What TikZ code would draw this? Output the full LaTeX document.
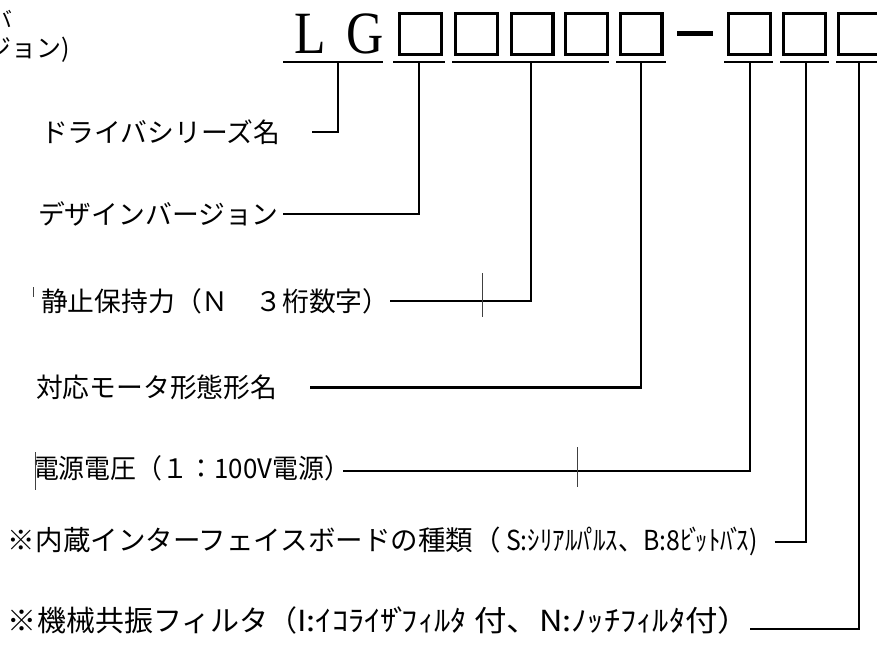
\documentclass[tikz,border=0pt]{standalone}
\usepackage{fontspec}
\setmainfont{Liberation Serif}
\newfontfamily\jp{Noto Sans CJK JP}
\usepackage{graphicx}
\newcommand\dkn[1]{\kern-.12em#1\kern-.24em}
\begin{document}
\begin{tikzpicture}[x=1pt,y=-1pt,
  lab/.style={anchor=west,inner sep=0pt,outer sep=0pt,font=\jp\fontsize{26.8pt}{30pt}\selectfont},
  lead/.style={line width=2.6pt},
  digitbox/.style={draw,line width=3.3pt,minimum width=41.7pt,minimum height=40.7pt,inner sep=0pt,outer sep=0pt},
  uline/.style={line width=2pt},
  noise/.style={line width=0.9pt,black!75}]
\useasboundingbox (0,0) rectangle (877,646);
\fill[white] (0,0) rectangle (877,646);

% top-left clipped caption
\node[anchor=east,inner sep=0pt,font=\jp\fontsize{21pt}{22pt}\selectfont] (tl1) at (13,19) {バ};
\node[anchor=west,inner sep=0pt,font=\jp\fontsize{25pt}{27pt}\selectfont] (tl2) at (-14,50) {ジョン)};

% model code
\node[anchor=base west,inner sep=0pt,font=\fontsize{60pt}{60pt}\selectfont] (lg) at (294.4,53) {\scalebox{0.86}[1]{L\kern24pt G}};
\node[digitbox] (b1) at (420.5,33.8) {};
\node[digitbox] (b2) at (476.5,33.8) {};
\node[digitbox] (b3) at (532,33.8) {};
\node[digitbox] (b4) at (586.5,33.8) {};
\node[digitbox] (b5) at (641,33.8) {};
\draw[line width=5pt] (677,33.5) -- (713,33.5);
\node[digitbox] (b6) at (749.5,33.8) {};
\node[digitbox] (b7) at (804.5,33.8) {};
\node[digitbox] (b8) at (859.5,33.8) {};

% underlines
\draw[uline] (283,62) -- (383,62);
\draw[uline] (393,62) -- (445,62);
\draw[uline] (452,62) -- (609,62);
\draw[uline] (616,62) -- (666,62);
\draw[uline] (724,62) -- (773,62);
\draw[uline] (780,62) -- (829,62);
\draw[uline] (836,62) -- (880,62);
\coordinate (u1) at (338,62);
\coordinate (u2) at (419,62);
\coordinate (u3) at (531,62);
\coordinate (u4) at (641,62);
\coordinate (u5) at (750,62);
\coordinate (u6) at (806,62);
\coordinate (u7) at (859,62);

% labels
\node[lab,text width=271.2pt,align=left] (l1) at (41,132) {ドライバシリーズ名};
\node[lab,text width=245pt,align=left] (l2) at (38,214) {デザインバージョン};
\node[lab,text width=349pt,align=left] (l3) at (41,301) {静止保持力（Ｎ　３桁数字）};
\node[lab,text width=274pt,align=left] (l4) at (36,387.5) {対応モータ形態形名};
\node[lab] (l5) at (33,468) {\resizebox{317pt}{\height}{電源電圧（１：100V電源）}};
\node[lab] (l6) at (8,541) {{\fontsize{27.5pt}{30pt}\selectfont ※内蔵インターフェイスボードの種類（}\resizebox{257pt}{\height}{\fontsize{27.5pt}{30pt}\selectfont\ S:ｼﾘｱﾙﾊ\dkn{ﾟ}ﾙｽ、B:8ﾋ\dkn{ﾞ}ｯﾄﾊ\dkn{ﾞ}ｽ)}};
\node[lab] (l7) at (8,620) {{\fontsize{29pt}{32pt}\selectfont ※機械共振フィルタ（}\resizebox{453pt}{\height}{\fontsize{29pt}{32pt}\selectfont I:ｲｺﾗｲｻ\dkn{ﾞ}ﾌｨﾙﾀ 付、N:ﾉｯﾁﾌｨﾙﾀ付）}};

% leaders
\draw[lead] (l1.east) -| (u1);
\draw[lead] (l2.east) -| (u2);
\draw[lead] (l3.east) -| (u3);
\draw[lead] (l4.east) -| (u4);
\draw[lead] ([xshift=-7pt,yshift=-3pt]l5.east) -| (u5);
\draw[lead] ([xshift=17pt,yshift=-1pt]l6.east) -| (u6);
\draw[lead] ([yshift=-9pt]l7.east) -| (u7);

% scan marks
\draw[noise] (482,273) -- (482,317);
\draw[noise] (577,447) -- (577,487);
\draw[noise] (35,452) -- (35,490);
\draw[noise] (33.5,287) -- (33.5,297);
\end{tikzpicture}
\end{document}
